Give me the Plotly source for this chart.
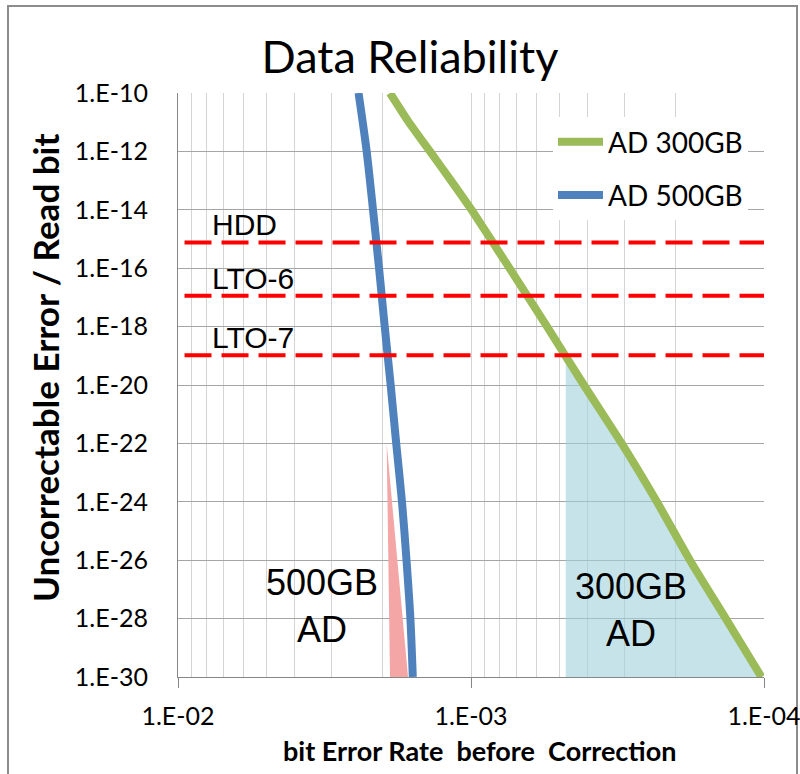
import math
import plotly.graph_objects as go

# ---------------- data ----------------
y_tick_vals = [1e-10, 1e-12, 1e-14, 1e-16, 1e-18, 1e-20, 1e-22, 1e-24, 1e-26, 1e-28, 1e-30]
y_tick_text = ["1.E-10", "1.E-12", "1.E-14", "1.E-16", "1.E-18", "1.E-20",
               "1.E-22", "1.E-24", "1.E-26", "1.E-28", "1.E-30"]
x_tick_vals = [1e-2, 1e-3, 1e-4]
x_tick_text = ["1.E-02", "1.E-03", "1.E-04"]
x_minor_vals = [9e-3, 8e-3, 7e-3, 6e-3, 5e-3, 4e-3, 3e-3, 2e-3,
                9e-4, 8e-4, 7e-4, 6e-4, 5e-4, 4e-4, 3e-4, 2e-4]

# AD 300GB curve
ad300_x = [1.89e-3, 1.63e-3, 1.38e-3, 1.17e-3, 9.96e-4, 7.39e-4, 5.50e-4, 4.12e-4,
           3.06e-4, 2.32e-4, 1.79e-4, 1.35e-4, 1.02e-4]
ad300_y = [1e-10, 1e-11, 1e-12, 1e-13, 1e-14, 1e-16, 1e-18, 1e-20,
           1e-22, 1e-24, 1e-26, 1e-28, 1e-30]

# AD 500GB curve
ad500_x = [2.42e-3, 2.27e-3, 2.16e-3, 2.06e-3, 1.97e-3, 1.88e-3,
           1.80e-3, 1.72e-3, 1.66e-3, 1.61e-3, 1.58e-3]
ad500_y = [1e-10, 1e-12, 1e-14, 1e-16, 1e-18, 1e-20,
           1e-22, 1e-24, 1e-26, 1e-28, 1e-30]

# shaded regions
fill300_x = [4.75e-4, 4.12e-4, 3.06e-4, 2.32e-4, 1.79e-4, 1.35e-4, 1.02e-4, 4.75e-4]
fill300_y = [1e-19, 1e-20, 1e-22, 1e-24, 1e-26, 1e-28, 1e-30, 1e-30]
fill500_x = [1.94e-3, 1.89e-3, 1.64e-3]
fill500_y = [1e-22, 1e-30, 1e-30]

# reference levels
ref_names = ["HDD", "LTO-6", "LTO-7"]
ref_levels = [7.6e-16, 1.15e-17, 1.05e-19]
ref_x = [9.5e-3, 1.0e-4]

# ---------------- figure ----------------
PL, PR, PT, PB = 178, 764, 93, 677
W, H = 800, 774


def px_x(p):
    return (p - PL) / (PR - PL)


def px_y(p):
    return (PB - p) / (PB - PT)


fig = go.Figure()

fig.add_trace(go.Scatter(x=fill300_x, y=fill300_y, fill="toself", mode="none",
                         fillcolor="rgba(158,208,217,0.6)", showlegend=False,
                         hoverinfo="skip"))
fig.add_trace(go.Scatter(x=fill500_x, y=fill500_y, fill="toself", mode="none",
                         fillcolor="rgba(244,166,166,1)", showlegend=False,
                         hoverinfo="skip"))

fig.add_trace(go.Scatter(x=ad300_x, y=ad300_y, mode="lines", name="AD 300GB",
                         line=dict(color="#9bbb59", width=8, shape="spline",
                                   smoothing=0.5), legendgroup="a"))
fig.add_trace(go.Scatter(x=ad500_x, y=ad500_y, mode="lines", name="AD 500GB",
                         line=dict(color="#4f81bd", width=8, shape="spline",
                                   smoothing=0.8), legendgroup="b"))

for name, lvl in zip(ref_names, ref_levels):
    fig.add_trace(go.Scatter(x=ref_x, y=[lvl, lvl], mode="lines", name=name,
                             line=dict(color="#ff0000", width=4, dash="27px,10px"),
                             showlegend=False))
    fig.add_annotation(x=-2.1126, y=math.log10(lvl), xref="x", yref="y", text=name,
                       xanchor="left", yanchor="bottom", showarrow=False,
                       font=dict(family="Liberation Sans", size=30, color="black"),
                       borderpad=0)

fig.add_annotation(x=-2.4915, y=-27.57, xref="x", yref="y", text="500GB<br>AD",
                   showarrow=False, xanchor="center", yanchor="middle",
                   font=dict(family="Liberation Sans", size=36, color="black"))
fig.add_annotation(x=-3.546, y=-27.71, xref="x", yref="y", text="300GB<br>AD",
                   showarrow=False, xanchor="center", yanchor="middle",
                   font=dict(family="Liberation Sans", size=36, color="black"))

# axis titles
fig.add_annotation(x=px_x(45), y=px_y(368), xref="paper", yref="paper",
                   text="Uncorrectable Error / Read bit", textangle=-90,
                   showarrow=False, xanchor="center", yanchor="middle",
                   font=dict(family="Lato", size=35, color="black", weight="bold"))
fig.add_annotation(x=px_x(479), y=px_y(750), xref="paper", yref="paper",
                   text="bit Error Rate\u00a0 before\u00a0 Correction",
                   showarrow=False, xanchor="center", yanchor="middle",
                   font=dict(family="Lato", size=27, color="black", weight="bold"))

# outer frame
fig.add_shape(type="rect", xref="paper", yref="paper",
              x0=px_x(8), x1=px_x(797), y0=px_y(800), y1=px_y(6),
              line=dict(color="#8c8c8c", width=2), fillcolor="rgba(0,0,0,0)",
              layer="below")

fig.update_layout(
    width=W, height=H, autosize=False,
    margin=dict(l=PL, r=W - PR, t=PT, b=H - PB, autoexpand=False),
    paper_bgcolor="white", plot_bgcolor="white",
    title=dict(text="Data Reliability", x=410 / W, xref="container",
               y=1 - 57 / H, yref="container", xanchor="center", yanchor="middle",
               font=dict(family="Lato", size=45, color="black")),
    legend=dict(x=px_x(553), y=px_y(117), xanchor="left", yanchor="top",
                bgcolor="white", font=dict(family="Lato", size=28, color="black"),
                tracegroupgap=14, itemwidth=45),
    showlegend=True,
)

fig.update_xaxes(type="log", range=[-2, -4], tickmode="array",
                 tickvals=x_tick_vals, ticktext=x_tick_text,
                 ticks="outside", ticklen=10, tickcolor="#868686",
                 showline=True, linecolor="#868686", linewidth=1,
                 showgrid=True, gridcolor="#d4d4d4", gridwidth=1,
                 minor=dict(tickmode="array", tickvals=x_minor_vals, showgrid=True,
                            gridcolor="#d4d4d4", ticks=""),
                 tickfont=dict(family="Lato", size=25, color="black"),
                 ticklabeloverflow="allow",
                 ticklabelstandoff=7, zeroline=False, automargin=False)
fig.update_yaxes(type="log", range=[-30, -10], tickmode="array",
                 tickvals=y_tick_vals, ticktext=y_tick_text, ticks="",
                 showline=True, linecolor="#868686", linewidth=1,
                 showgrid=True, gridcolor="#a6a6a6", gridwidth=1,
                 tickfont=dict(family="Lato", size=25, color="black"),
                 ticklabeloverflow="allow",
                 ticklabelstandoff=24, zeroline=False, automargin=False)

fig.write_html("out.html")
